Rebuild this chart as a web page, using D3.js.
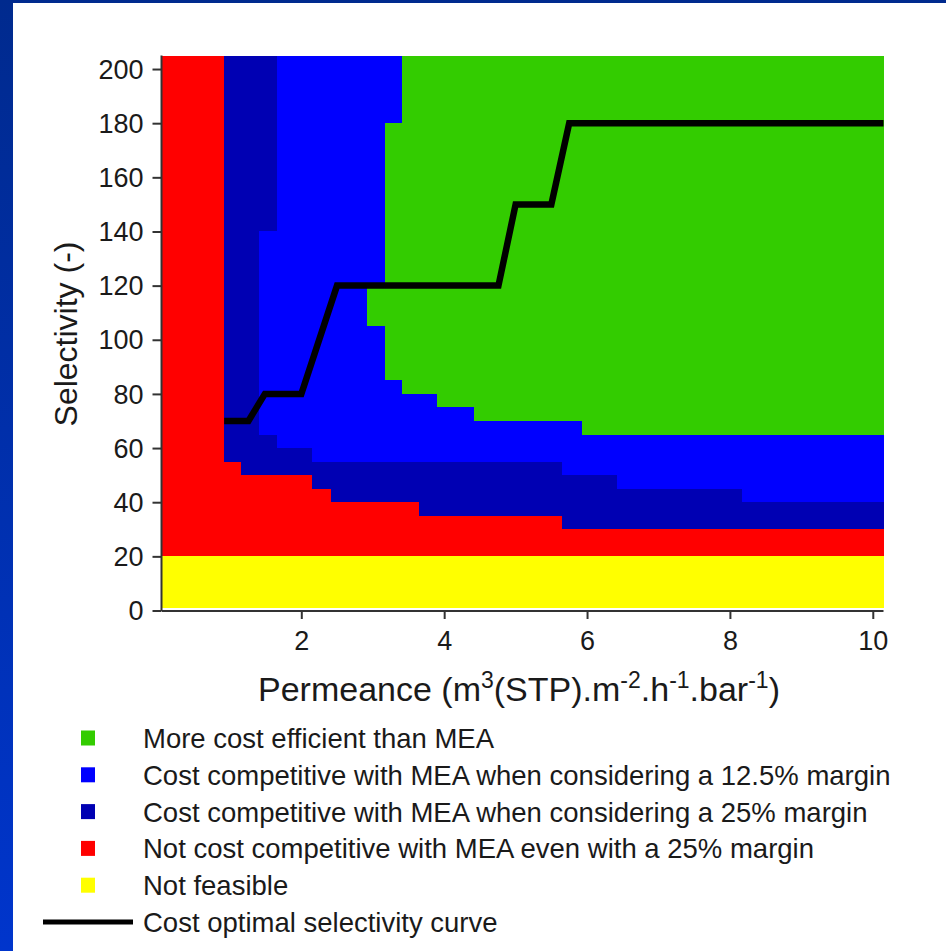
<!DOCTYPE html>
<html>
<head>
<meta charset="utf-8">
<script src="https://cdn.jsdelivr.net/npm/d3@7"></script>
<style>
  html, body { margin: 0; padding: 0; background: #ffffff; }
  svg { display: block; }
  text { font-family: "Liberation Sans", Arial, sans-serif; fill: #1a1a1a; }
</style>
</head>
<body>
<svg id="chart" width="946" height="951"></svg>
<script>
// ---------------- DATA ----------------
// Axis extents (data units)
const xDomain = [0.05, 10.15];
const yDomain = [0, 205];
const xTicks = [2, 4, 6, 8, 10];
const yTicks = [0, 20, 40, 60, 80, 100, 120, 140, 160, 180, 200];

// Region cells: [permeance from, permeance to, selectivity from, selectivity to]
const notFeasible = [[0.05, 10.15, 1, 20]];
const notCompetitive = [
  [0.05, 0.92, 20, 205], [0.92, 1.16, 20, 55], [1.16, 2.15, 20, 50],
  [2.15, 2.42, 20, 45], [2.42, 3.65, 20, 40], [3.65, 5.65, 20, 35],
  [5.65, 10.15, 20, 30]
];
const margin25 = [
  [0.92, 1.16, 55, 205], [1.16, 1.41, 50, 205], [1.41, 1.66, 50, 65],
  [1.41, 1.66, 140, 205], [1.66, 2.15, 50, 60], [2.15, 2.42, 45, 55],
  [2.42, 3.65, 40, 55], [3.65, 5.65, 35, 55], [5.65, 6.42, 30, 50],
  [6.42, 8.17, 30, 45], [8.17, 10.15, 30, 40]
];
const margin125 = [
  [1.41, 1.66, 65, 140], [1.66, 2.15, 60, 205], [2.15, 2.92, 55, 205],
  [2.92, 3.17, 55, 105], [2.92, 3.17, 120, 205], [3.17, 3.41, 55, 85],
  [3.17, 3.41, 180, 205], [3.41, 3.90, 55, 80], [3.90, 4.42, 55, 75],
  [4.42, 5.65, 55, 70], [5.65, 5.93, 50, 70], [5.93, 6.42, 50, 65],
  [6.42, 8.17, 45, 65], [8.17, 10.15, 40, 65]
];
const moreEfficient = [
  [2.92, 3.17, 105, 120], [3.17, 3.41, 85, 180], [3.41, 3.90, 80, 205],
  [3.90, 4.42, 75, 205], [4.42, 5.93, 70, 205], [5.93, 10.15, 65, 205]
];
// Cost optimal selectivity curve: [permeance, selectivity]
const optimalCurve = [
  [0.92, 70], [1.26, 70], [1.49, 80], [2.0, 80], [2.5, 120], [4.76, 120],
  [5.0, 150], [5.5, 150], [5.75, 180], [10.15, 180]
];

const regionNames = [
  "More cost efficient than MEA",
  "Cost competitive with MEA when considering a 12.5% margin",
  "Cost competitive with MEA when considering a 25% margin",
  "Not cost competitive with MEA even with a 25% margin",
  "Not feasible"
];
const lineName = "Cost optimal selectivity curve";

// ---------------- DRAWING ----------------
const colors = ["#33cc00", "#0000ff", "#0000b3", "#ff0000", "#ffff00"];
const regionData = [moreEfficient, margin125, margin25, notCompetitive, notFeasible];

const svg = d3.select("#chart");

// Slide background frame
const defs = svg.append("defs");
const grad = defs.append("linearGradient").attr("id", "bg")
  .attr("x1", 0).attr("y1", 0).attr("x2", 0).attr("y2", 1);
grad.append("stop").attr("offset", "0%").attr("stop-color", "#002a8e");
grad.append("stop").attr("offset", "100%").attr("stop-color", "#0035cc");
svg.append("rect").attr("width", 946).attr("height", 951).attr("fill", "url(#bg)");
svg.append("rect").attr("x", 13).attr("y", 3).attr("width", 933).attr("height", 948).attr("fill", "#ffffff");

const x = d3.scaleLinear().domain(xDomain).range([162, 883.5]);
const y = d3.scaleLinear().domain(yDomain).range([610.5, 55.5]);

const plot = svg.append("g");
// draw order: yellow, red, dark blue, blue, green
[4, 3, 2, 1, 0].forEach(i => {
  plot.append("g").selectAll("rect").data(regionData[i]).join("rect")
    .attr("x", d => x(d[0]))
    .attr("y", d => y(d[3]))
    .attr("width", d => x(d[1]) - x(d[0]))
    .attr("height", d => y(d[2]) - y(d[3]))
    .attr("fill", colors[i])
    .attr("shape-rendering", "crispEdges");
});

plot.append("path")
  .datum(optimalCurve)
  .attr("d", d3.line().x(d => x(d[0])).y(d => y(d[1])))
  .attr("fill", "none")
  .attr("stroke", "#000")
  .attr("stroke-width", 6.5)
  .attr("stroke-linejoin", "miter");

// Axes
const xAxis = svg.append("g").attr("transform", "translate(0,611)")
  .call(d3.axisBottom(x).tickValues(xTicks).tickSize(8).tickPadding(12).tickSizeOuter(0));
const yAxis = svg.append("g").attr("transform", "translate(161.5,0)")
  .call(d3.axisLeft(y).tickValues(yTicks).tickSize(9).tickPadding(9).tickSizeOuter(0));
[xAxis, yAxis].forEach(a => {
  a.select(".domain").attr("stroke", "#333").attr("stroke-width", 2);
  a.selectAll(".tick line").attr("stroke", "#333").attr("stroke-width", 2);
  a.selectAll(".tick text").attr("font-size", 27).attr("fill", "#1a1a1a")
    .attr("font-family", "'Liberation Sans', Arial, sans-serif");
});
xAxis.select(".domain").attr("d", `M${x(xDomain[0])},0H${x(xDomain[1])}`);
yAxis.select(".domain").attr("d", `M0,${y(yDomain[1])}V${y(0) + 0.5}`);
yAxis.selectAll(".tick text").attr("dy", "0.34em");

// Axis titles
const xt = svg.append("text").attr("x", 519).attr("y", 701)
  .attr("text-anchor", "middle").attr("font-size", 34);
const supParts = [
  ["Permeance (m", false], ["3", true], ["(STP).m", false], ["-2", true],
  [".h", false], ["-1", true], [".bar", false], ["-1", true], [")", false]
];
supParts.forEach(([t, sup]) => {
  const ts = xt.append("tspan").text(t);
  if (sup) ts.attr("font-size", 23).attr("baseline-shift", "super");
});

svg.append("text")
  .attr("transform", "translate(77,334) rotate(-90)")
  .attr("text-anchor", "middle").attr("font-size", 32)
  .text("Selectivity (-)");

// Legend
const rowY = d => 738 + d * 36.8;
const leg = svg.append("g");
regionNames.forEach((name, i) => {
  leg.append("rect").attr("x", 81).attr("y", rowY(i) - 7.5)
    .attr("width", 14).attr("height", 15).attr("fill", colors[i]);
  leg.append("text").attr("x", 143).attr("y", rowY(i) + 10)
    .attr("font-size", 27.5).text(name);
});
leg.append("line").attr("x1", 43).attr("x2", 133)
  .attr("y1", rowY(5)).attr("y2", rowY(5))
  .attr("stroke", "#000").attr("stroke-width", 5);
leg.append("text").attr("x", 143).attr("y", rowY(5) + 10)
  .attr("font-size", 27.5).text(lineName);
</script>
</body>
</html>
